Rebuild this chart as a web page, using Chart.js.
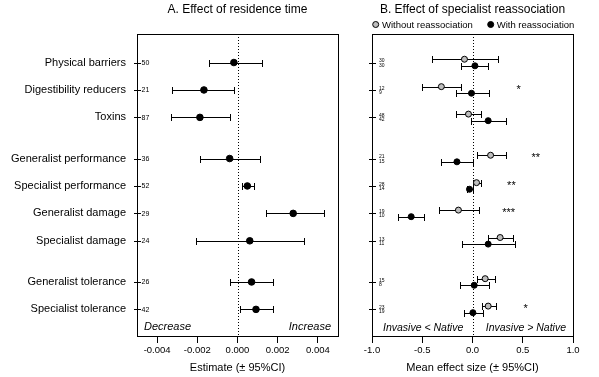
<!DOCTYPE html>
<html lang="en">
<head>
<meta charset="UTF-8">
<script src="https://cdn.jsdelivr.net/npm/chart.js@4.4.0/dist/chart.umd.min.js"></script>
<style>
    body { margin: 0; background: #fff; }
    #wrap { position: relative; width: 599px; height: 377px; }
    canvas { position: absolute; top: 0; }
    #chartA { left: 0; }
    #chartB { left: 345px; }
</style>
<title>Residence time and specialist reassociation</title>
</head>
<body>
<div id="wrap">
    <canvas id="chartA" width="345" height="377"></canvas>
    <canvas id="chartB" width="254" height="377"></canvas>
</div>
<script>
// rows, top to bottom, in three groups
const categories = ['Physical barriers', 'Digestibility reducers', 'Toxins',
    'Generalist performance', 'Specialist performance', 'Generalist damage', 'Specialist damage',
    'Generalist tolerance', 'Specialist tolerance'];
const groupSizes = [3, 4, 2];

// A. effect of residence time
const residenceEst = [-0.00018, -0.00167, -0.00187, -0.00039, 0.00049, 0.00277, 0.00061, 0.0007, 0.00092];
const residenceLo = [-0.00144, -0.00324, -0.00332, -0.00186, 0.00021, 0.00144, -0.00207, -0.00038, 0.00011];
const residenceHi = [0.0012, -0.00018, -0.00038, 0.0011, 0.0008, 0.0043, 0.00332, 0.00176, 0.00176];
const residenceN = [50, 21, 87, 36, 52, 29, 24, 26, 42];
const ticksA = [-0.004, -0.002, 0, 0.002, 0.004];

// B. effect of specialist reassociation
const withoutMean = [-0.08, -0.31, -0.04, 0.18, 0.04, -0.14, 0.275, 0.126, 0.156];
const withoutLo = [-0.40, -0.50, -0.16, 0.04, 0.007, -0.33, 0.15, 0.04, 0.09];
const withoutHi = [0.25, -0.11, 0.08, 0.33, 0.087, 0.06, 0.40, 0.22, 0.23];
const withoutN = [30, 12, 48, 21, 28, 19, 13, 15, 23];
const withMean = [0.024, -0.01, 0.156, -0.155, -0.03, -0.61, 0.156, 0.017, 0.004];
const withLo = [-0.11, -0.165, -0.01, -0.31, -0.05, -0.74, -0.10, -0.125, -0.08];
const withHi = [0.15, 0.16, 0.33, 0.0, 0.0, -0.48, 0.42, 0.16, 0.10];
const withN = [30, 9, 42, 15, 14, 10, 11, 8, 19];
const signif = ['', '*', '', '**', '**', '***', '', '', '*'];
const ticksB = [-1, -0.5, 0, 0.5, 1];

const FONT = 'Liberation Sans, Arial, sans-serif';
Chart.defaults.font.family = FONT;
Chart.defaults.color = '#000';

function rowPositions(sizes, gap) {
    const out = [];
    let y = 0;
    sizes.forEach((n, g) => {
        if (g > 0) y += gap - 1;
        for (let i = 0; i < n; i++) { out.push(y); y++; }
    });
    return out;
}
const rows = rowPositions(groupSizes, 1.5);
const PAIR = 0.12; // vertical nudge of the two series in panel B

function crisp(v) { return Math.round(v) + 0.5; }

function drawFrame(chart) {
    const { ctx, chartArea: a, scales: { x, y } } = chart;
    ctx.save();
    ctx.strokeStyle = '#000';
    ctx.lineWidth = 1;
    // dotted zero line
    ctx.setLineDash([1, 2]);
    const zx = crisp(x.getPixelForValue(0));
    ctx.beginPath();
    ctx.moveTo(zx, a.top);
    ctx.lineTo(zx, a.bottom);
    ctx.stroke();
    ctx.setLineDash([]);
    // box
    ctx.strokeRect(crisp(a.left), crisp(a.top), Math.round(a.right - a.left), Math.round(a.bottom - a.top));
    // row ticks crossing the left axis
    ctx.beginPath();
    rows.forEach(r => {
        const py = crisp(y.getPixelForValue(r));
        ctx.moveTo(a.left - 3, py);
        ctx.lineTo(a.left + 4, py);
    });
    ctx.stroke();
    ctx.restore();
}

function drawBars(chart, lo, hi, ys, cap) {
    const { ctx, scales: { x, y } } = chart;
    ctx.save();
    ctx.strokeStyle = '#000';
    ctx.lineWidth = 1;
    ctx.beginPath();
    lo.forEach((l, i) => {
        const py = crisp(y.getPixelForValue(ys[i]));
        const x1 = crisp(x.getPixelForValue(l));
        const x2 = crisp(x.getPixelForValue(hi[i]));
        ctx.moveTo(x1, py); ctx.lineTo(x2, py);
        ctx.moveTo(x1, py - cap); ctx.lineTo(x1, py + cap);
        ctx.moveTo(x2, py - cap); ctx.lineTo(x2, py + cap);
    });
    ctx.stroke();
    ctx.restore();
}

function text(ctx, s, x, y, font, align) {
    ctx.font = font;
    ctx.textAlign = align || 'left';
    ctx.textBaseline = 'alphabetic';
    ctx.fillStyle = '#000';
    ctx.fillText(s, x, y);
}

const panelA = {
    id: 'panelA',
    beforeDatasetsDraw(chart) {
        drawFrame(chart);
        drawBars(chart, residenceLo, residenceHi, rows, 3.5);
    },
    afterDraw(chart) {
        const { ctx, chartArea: a, scales: { y } } = chart;
        const cx = (a.left + a.right) / 2;
        ctx.save();
        text(ctx, 'A. Effect of residence time', cx, 12.5, '12px ' + FONT, 'center');
        text(ctx, 'Estimate (\u00b1 95%CI)', cx, 371, '11px ' + FONT, 'center');
        residenceN.forEach((n, i) => {
            text(ctx, String(n), a.left + 4.5, y.getPixelForValue(rows[i]) + 2.5, '7px ' + FONT);
        });
        text(ctx, 'Decrease', a.left + 7, 330, 'italic 11px ' + FONT, 'left');
        text(ctx, 'Increase', a.right - 7, 330, 'italic 11px ' + FONT, 'right');
        ctx.restore();
    }
};

const panelB = {
    id: 'panelB',
    beforeDatasetsDraw(chart) {
        drawFrame(chart);
        drawBars(chart, withoutLo, withoutHi, rows.map(r => r - PAIR), 3.5);
        drawBars(chart, withLo, withHi, rows.map(r => r + PAIR), 3.5);
    },
    afterDraw(chart) {
        const { ctx, chartArea: a, scales: { x, y } } = chart;
        const cx = (a.left + a.right) / 2;
        ctx.save();
        text(ctx, 'B. Effect of specialist reassociation', cx, 12.5, '12px ' + FONT, 'center');
        text(ctx, 'Mean effect size (\u00b1 95%CI)', cx, 371, '11px ' + FONT, 'center');
        // legend
        const ly = 24.5;
        ctx.lineWidth = 1;
        ctx.strokeStyle = '#000';
        ctx.beginPath(); ctx.arc(a.left + 3.7, ly, 3, 0, Math.PI * 2);
        ctx.fillStyle = '#bebebe'; ctx.fill(); ctx.stroke();
        text(ctx, 'Without reassociation', a.left + 10, 27.5, '9.5px ' + FONT);
        ctx.beginPath(); ctx.arc(a.left + 118.7, ly, 3, 0, Math.PI * 2);
        ctx.fillStyle = '#000'; ctx.fill(); ctx.stroke();
        text(ctx, 'With reassociation', a.left + 124.7, 27.5, '9.5px ' + FONT);
        // sample sizes
        rows.forEach((r, i) => {
            const py = y.getPixelForValue(r);
            text(ctx, String(withoutN[i]), a.left + 7, py - 0.3, '5px ' + FONT);
            text(ctx, String(withN[i]), a.left + 7, py + 4, '5px ' + FONT);
        });
        // significance stars
        signif.forEach((s, i) => {
            if (!s) return;
            const sx = x.getPixelForValue(Math.max(withoutHi[i], withHi[i]) + 0.3);
            text(ctx, s, sx, y.getPixelForValue(rows[i] - PAIR) + 6, '11px ' + FONT, 'center');
        });
        text(ctx, 'Invasive < Native', a.left + 11, 330.5, 'italic 10.5px ' + FONT, 'left');
        text(ctx, 'Invasive > Native', a.right - 7, 330.5, 'italic 10.5px ' + FONT, 'right');
        ctx.restore();
    }
};

function xScale(min, max, ticks, fmt) {
    return {
        type: 'linear', min: min, max: max,
        afterBuildTicks: s => { s.ticks = ticks.map(v => ({ value: v })); },
        afterFit: s => { s.height = 41; s.paddingLeft = 0; s.paddingRight = 0; },
        grid: { drawOnChartArea: false, drawTicks: true, tickLength: 7, color: '#000', lineWidth: 1 },
        border: { display: true, color: '#000', width: 1 },
        ticks: { padding: 2, color: '#000', font: { size: 9.5 }, maxRotation: 0, autoSkip: false, callback: fmt }
    };
}

function yScale(width, showLabels) {
    return {
        type: 'linear', reverse: true, min: -1.04, max: 9.97,
        afterBuildTicks: s => { s.ticks = rows.map(v => ({ value: v })); },
        afterFit: s => { s.width = width; },
        grid: { display: false },
        border: { display: false },
        ticks: {
            display: showLabels, autoSkip: false, padding: 3, color: '#000',
            font: { size: 11 }, callback: (v, i) => categories[i]
        }
    };
}

const common = {
    responsive: false,
    animation: false,
    events: [],
    plugins: { legend: { display: false }, tooltip: { enabled: false } }
};

new Chart(document.getElementById('chartA'), {
    type: 'scatter',
    data: {
        datasets: [{
            data: residenceEst.map((v, i) => ({ x: v, y: rows[i] })),
            pointRadius: 3.3, borderWidth: 1,
            backgroundColor: '#000', borderColor: '#000'
        }]
    },
    options: Object.assign({}, common, {
        layout: { padding: { top: 34, right: 7, left: 0, bottom: 0 } },
        scales: {
            x: xScale(-0.005, 0.005, ticksA, v => v.toFixed(3)),
            y: yScale(137, true)
        }
    }),
    plugins: [panelA]
});

new Chart(document.getElementById('chartB'), {
    type: 'scatter',
    data: {
        datasets: [{
            data: withoutMean.map((v, i) => ({ x: v, y: rows[i] - PAIR })),
            pointRadius: 3, borderWidth: 1,
            backgroundColor: '#bebebe', borderColor: '#000'
        }, {
            data: withMean.map((v, i) => ({ x: v, y: rows[i] + PAIR })),
            pointRadius: 3, borderWidth: 1,
            backgroundColor: '#000', borderColor: '#000'
        }]
    },
    options: Object.assign({}, common, {
        layout: { padding: { top: 34, right: 26, left: 0, bottom: 0 } },
        scales: {
            x: xScale(-1, 1, ticksB, v => v.toFixed(1)),
            y: yScale(27, false)
        }
    }),
    plugins: [panelB]
});
</script>
</body>
</html>
